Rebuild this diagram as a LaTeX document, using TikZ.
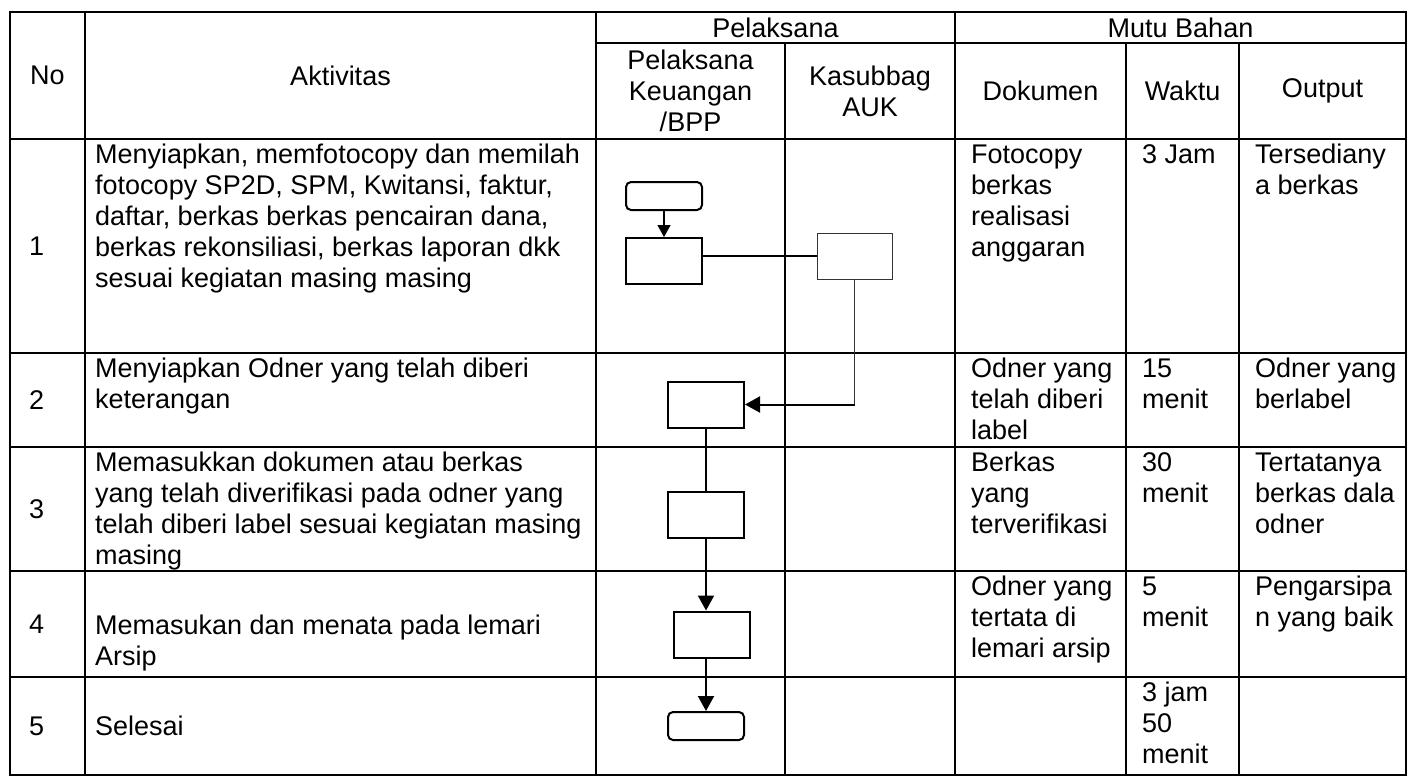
\documentclass[tikz,border=0pt]{standalone}
\usepackage{fontspec}
\setmainfont{Liberation Sans}
\usepackage{tikz}
\usetikzlibrary{arrows.meta,positioning}

\newcommand{\cellfont}{\fontsize{27}{31}\selectfont}
\newcommand{\cellstrut}{\rule{0pt}{24.4pt}}

\begin{document}
\begin{tikzpicture}[
    x=1pt, y=1pt,
    tabline/.style={line width=2pt},
    proc/.style={rectangle, draw, line width=2pt, minimum width=76pt, minimum height=46pt, inner sep=0pt},
    term/.style={rectangle, draw, rounded corners=5pt, line width=2pt, minimum width=76pt, minimum height=28pt, inner sep=0pt},
    thinproc/.style={proc, line width=1pt, draw=black!80, minimum width=75pt},
    hdr/.style={align=center, font=\cellfont, inner sep=0pt},
    txt/.style={anchor=north west, align=left, font=\cellfont, inner sep=0pt},
    num/.style={anchor=west, font=\cellfont, inner sep=0pt},
    line/.style={line width=2pt},
    thin/.style={line width=1pt, draw=black!80},
    arr/.style={line width=2pt, -{Triangle[width=16pt,length=15pt]}},
    smallarr/.style={line width=1.2pt, -{Triangle[width=13pt,length=12pt]}}
]
\useasboundingbox (0,0) rectangle (1412,-777);

% Table grid
\draw[tabline] (10,-12) rectangle (1406,-775);
\foreach \x in {85,596,955} \draw[tabline] (\x,-12) -- (\x,-775);
\foreach \x in {785,1126,1239} \draw[tabline] (\x,-43) -- (\x,-775);
\draw[tabline] (596,-43) -- (1406,-43);
\foreach \y in {139,353,447,571,677} \draw[tabline] (10,-\y) -- (1406,-\y);

% Header
\node[hdr] (h-no) at (47.5,-75.5) {No};
\node[hdr] (h-akt) at (340.5,-75.5) {Aktivitas};
\node[hdr] (h-pel) at (775.5,-27.5) {Pelaksana};
\node[hdr] (h-mutu) at (1180.5,-27.5) {Mutu Bahan};
\node[hdr] (h-pk) at (690.5,-91) {Pelaksana\\Keuangan\\/BPP};
\node[hdr] (h-kas) at (870,-91) {Kasubbag\\AUK};
\node[hdr] (h-dok) at (1040.5,-91) {Dokumen};
\node[hdr] (h-wkt) at (1182.5,-91) {Waktu};
\node[hdr] (h-out) at (1322.5,-91) {Output};

% Numbers
\node[num] (n1) at (29,-246) {1};
\node[num] (n2) at (29,-400) {2};
\node[num] (n3) at (29,-509) {3};
\node[num] (n4) at (29,-624) {4};
\node[num] (n5) at (29,-726) {5};

% Activities
\node[txt] (a1) at (95,-139) {\cellstrut Menyiapkan, memfotocopy dan memilah\\fotocopy SP2D, SPM, Kwitansi, faktur,\\daftar, berkas berkas pencairan dana,\\berkas rekonsiliasi, berkas laporan dkk\\sesuai kegiatan masing masing};
\node[txt] (a2) at (95,-353) {\cellstrut Menyiapkan Odner yang telah diberi\\keterangan};
\node[txt] (a3) at (95,-447) {\cellstrut Memasukkan dokumen atau berkas\\yang telah diverifikasi pada odner yang\\telah diberi label sesuai kegiatan masing\\masing};
\node[txt] (a4) at (95,-609.6) {\cellstrut Memasukan dan menata pada lemari\\Arsip};
\node[num] (a5) at (95,-726) {Selesai};

% Mutu bahan
\node[txt] (d1) at (971,-139) {\cellstrut Fotocopy\\berkas\\realisasi\\anggaran};
\node[txt] (w1) at (1142,-139) {\cellstrut 3 Jam};
\node[txt] (o1) at (1255,-139) {\cellstrut Tersediany\\a berkas};
\node[txt] (d2) at (971,-353) {\cellstrut Odner yang\\telah diberi\\label};
\node[txt] (w2) at (1142,-353) {\cellstrut 15\\menit};
\node[txt] (o2) at (1255,-353) {\cellstrut Odner yang\\berlabel};
\node[txt] (d3) at (971,-447) {\cellstrut Berkas\\yang\\terverifikasi};
\node[txt] (w3) at (1142,-447) {\cellstrut 30\\menit};
\node[txt] (o3) at (1255,-447) {\cellstrut Tertatanya\\berkas dala\\odner};
\node[txt] (d4) at (971,-571) {\cellstrut Odner yang\\tertata di\\lemari arsip};
\node[txt] (w4) at (1142,-571) {\cellstrut 5\\menit};
\node[txt] (o4) at (1255,-571) {\cellstrut Pengarsipa\\n yang baik};
\node[txt] (w5) at (1142,-677) {\cellstrut 3 jam\\50\\menit};

% Flow symbols
\node[term] (start) at (664,-196) {};
\node[proc, below=26pt of start] (p1) {};
\node[thinproc] (k1) at (854.5,-256) {};
\node[proc] (p2) at (706,-404.5) {};
\node[proc, below=62pt of p2] (p3) {};
\node[proc] (p4) at (711.5,-634.5) {};
\node[term] (stop) at (706,-726) {};

% Connectors
\draw[smallarr] (start) -- (p1);
\draw[line] (p1.east |- k1.west) -- (k1.west);
\coordinate (turn) at (k1.south |- p2.east);
\draw[thin] (k1.south) -- (turn);
\draw[arr] (turn) -- (p2.east);
\draw[line] (p2) -- (p3);
\draw[arr] (p3.south) -- (p3.south |- p4.north);
\draw[arr] (p3.south |- p4.south) -- (stop.north);

\end{tikzpicture}
\end{document}
